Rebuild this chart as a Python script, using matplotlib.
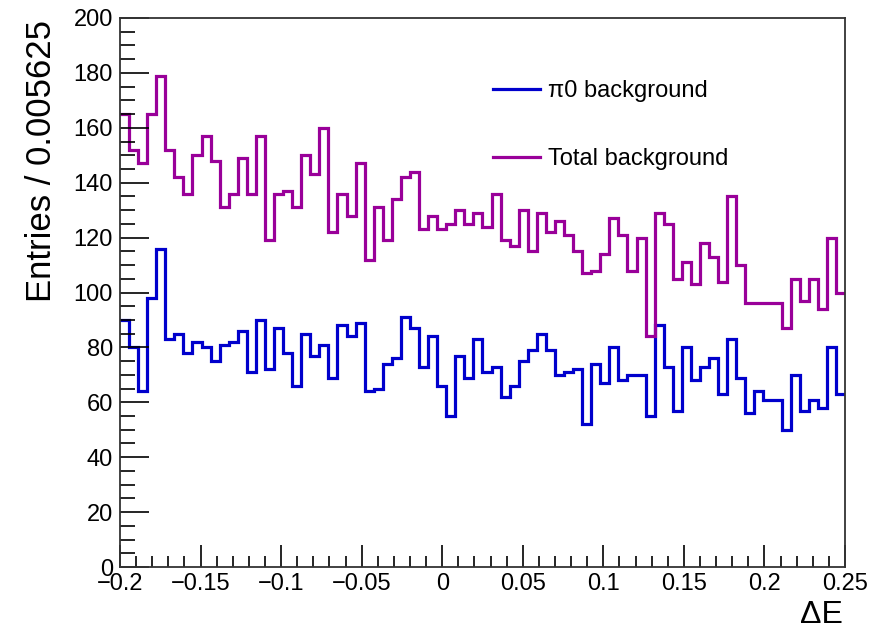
import numpy as np
import matplotlib
matplotlib.use('Agg')
import matplotlib.pyplot as plt
from matplotlib.ticker import MultipleLocator, FuncFormatter

plt.rcParams['font.family'] = ['Liberation Sans', 'DejaVu Sans']

# histogram binning: 80 bins on [-0.2, 0.25]
x_lo = -0.2
x_hi = 0.25
n_bins = 80

pi0_bkg = [90, 80, 64, 98, 116, 83, 85, 78, 82, 80,
           75, 81, 82, 86, 71, 90, 72, 87, 78, 66,
           85, 77, 81, 69, 88, 84, 89, 64, 65, 74,
           76, 91, 87, 73, 84, 66, 55, 77, 69, 83,
           71, 73, 62, 66, 75, 79, 85, 79, 70, 71,
           72, 52, 74, 67, 80, 68, 70, 70, 55, 88,
           73, 57, 80, 68, 73, 76, 63, 83, 69, 56,
           64, 61, 61, 50, 70, 57, 61, 58, 80, 63]

total_bkg = [165, 152, 147, 165, 179, 152, 142, 136, 150, 157,
             148, 131, 136, 149, 136, 157, 119, 136, 137, 131,
             150, 143, 160, 122, 136, 128, 147, 112, 131, 119,
             134, 142, 144, 123, 128, 123, 125, 130, 125, 129,
             124, 136, 119, 117, 130, 115, 129, 122, 126, 121,
             115, 107, 108, 114, 127, 121, 108, 120, 84, 129,
             125, 105, 111, 103, 118, 113, 104, 135, 110, 96,
             96, 96, 96, 87, 105, 97, 105, 94, 120, 100]

edges = np.linspace(x_lo, x_hi, n_bins + 1)

fig = plt.figure(figsize=(8.79, 6.29), dpi=100)
ax = fig.add_axes([120 / 879, 62 / 629, 725 / 879, 549 / 629])

ax.stairs(pi0_bkg, edges, color='#0000cc', lw=2.3, baseline=None,
          label='π0 background')
ax.stairs(total_bkg, edges, color='#990099', lw=2.3, baseline=None,
          label='Total background')

ax.set_xlim(x_lo, x_hi)
ax.set_ylim(0, 200)

# ROOT-like axes: inward ticks, no ticks on top/right
ax.xaxis.set_major_locator(MultipleLocator(0.05))
ax.xaxis.set_minor_locator(MultipleLocator(0.01))
ax.yaxis.set_major_locator(MultipleLocator(20))
ax.yaxis.set_minor_locator(MultipleLocator(5))
ax.xaxis.set_major_formatter(FuncFormatter(lambda v, p: ('%g' % round(v, 3)).replace('-', '\u2212')))
ax.tick_params(axis='both', which='both', direction='in', top=False, right=False,
               labelsize=17, colors='black')
ax.tick_params(axis='x', which='major', length=16, width=1.2, pad=4)
ax.tick_params(axis='x', which='minor', length=8, width=1.2)
ax.tick_params(axis='y', which='major', length=21, width=1.2, pad=5)
ax.tick_params(axis='y', which='minor', length=11, width=1.2)
for s in ax.spines.values():
    s.set_linewidth(1.3)
    s.set_color('#333333')

ax.set_ylabel('Entries / 0.005625', fontsize=25, loc='top')
ax.yaxis.set_label_coords(-0.085, 0.996)
ax.set_xlabel('\u0394E', fontsize=23, loc='right')
ax.xaxis.set_label_coords(0.997, -0.06)

ax.legend(loc='upper left', bbox_to_anchor=(0.514, 0.887), frameon=False,
          fontsize=17, handlelength=2.0, handletextpad=0.35, labelspacing=1.95,
          borderpad=0, borderaxespad=0)

fig.savefig('out.png', dpi=100)
